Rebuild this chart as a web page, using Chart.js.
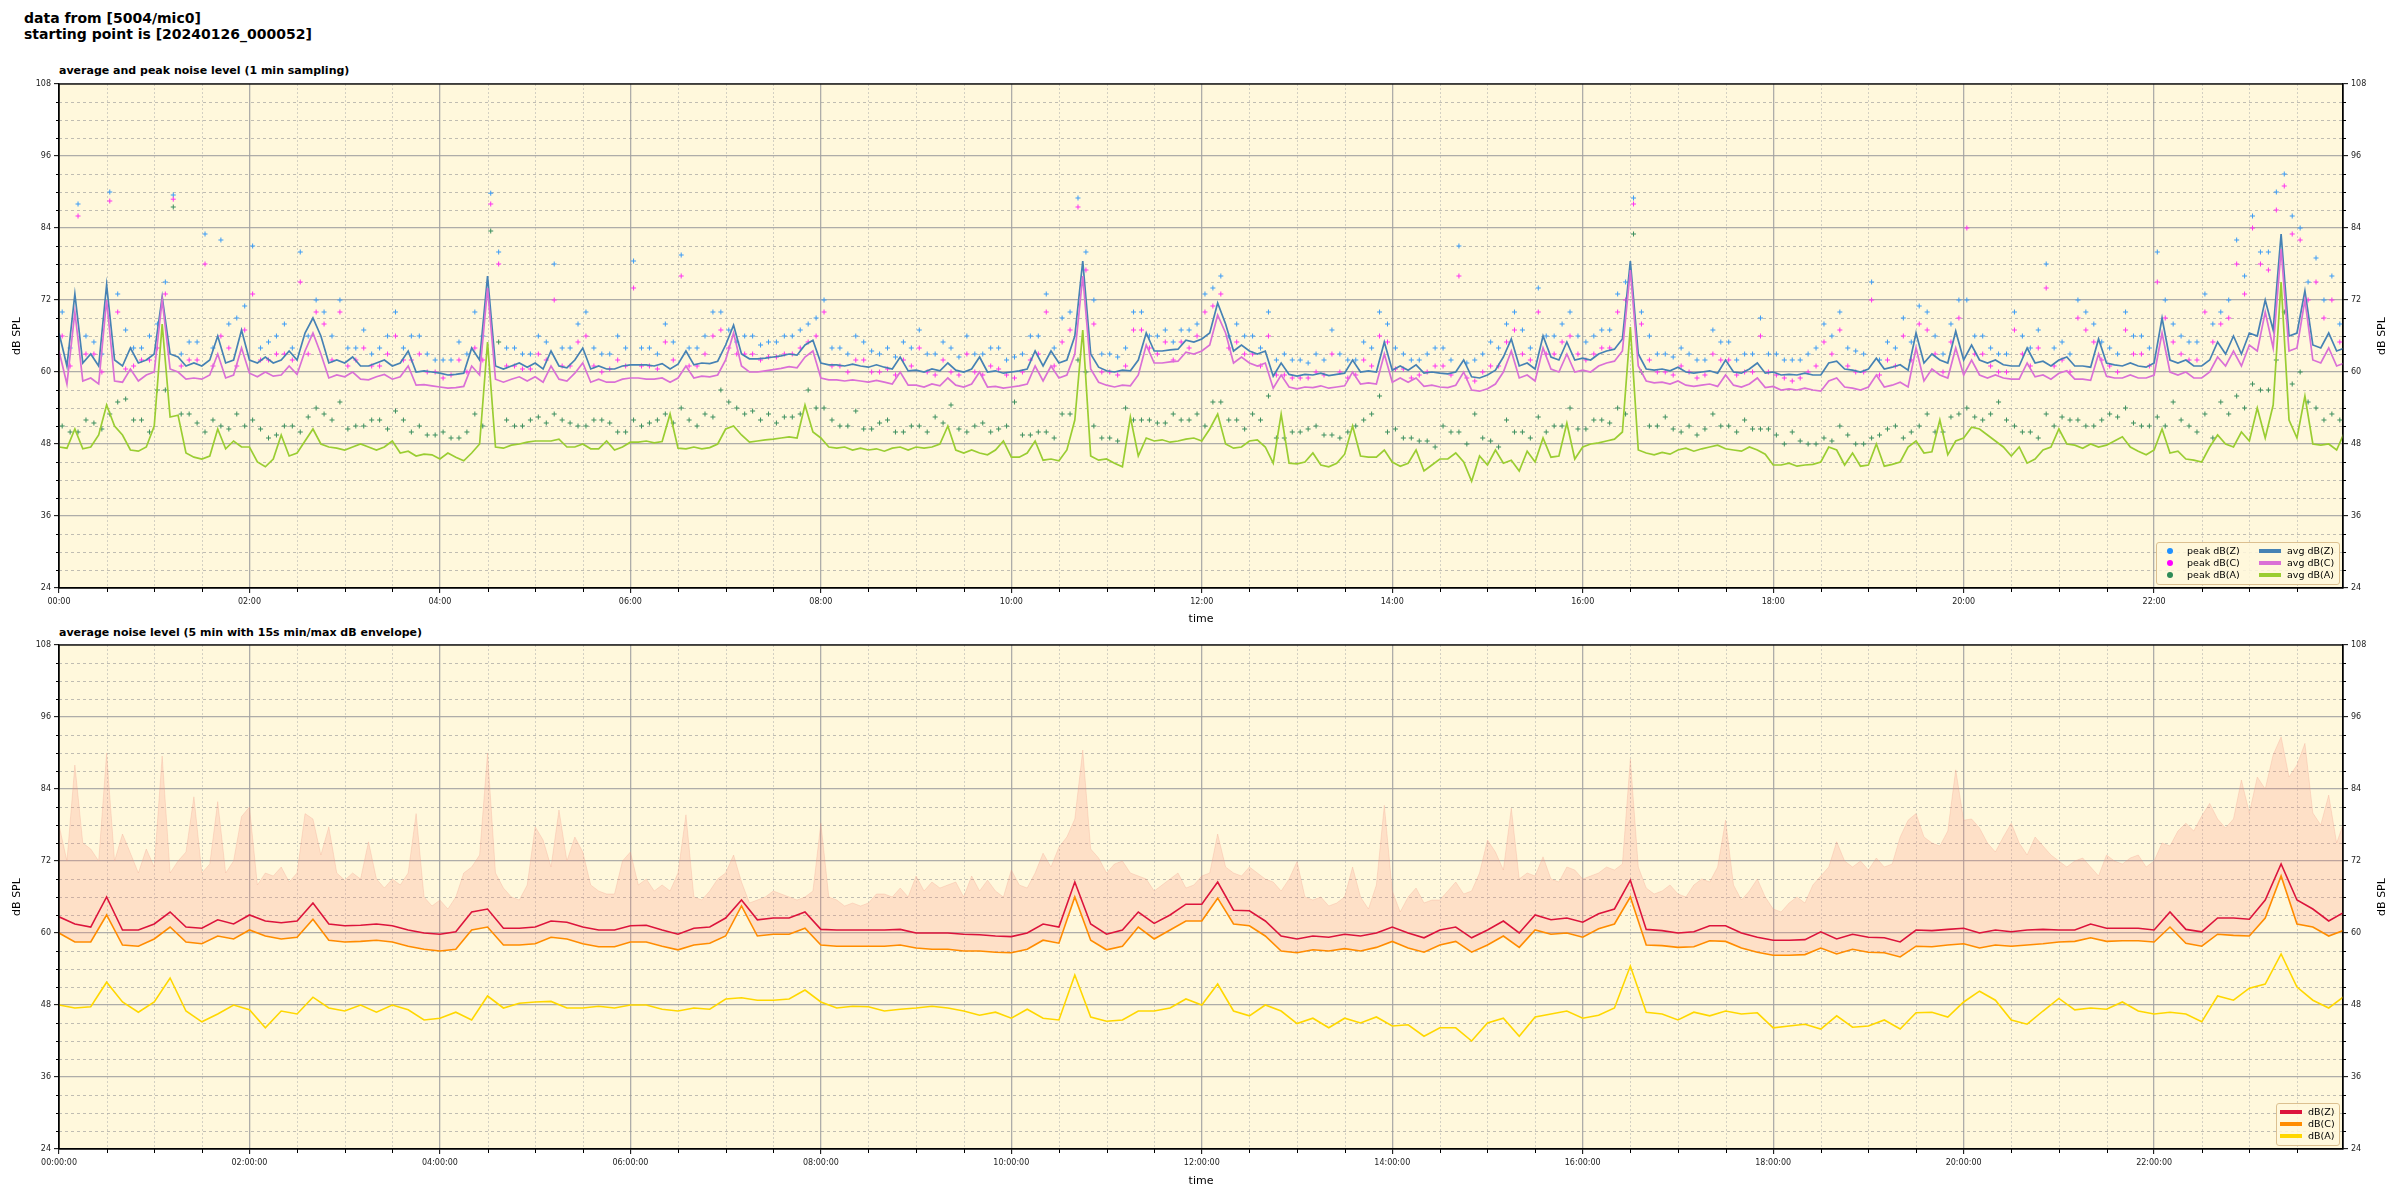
<!DOCTYPE html>
<html>
<head>
<meta charset="utf-8">
<script src="https://cdn.jsdelivr.net/npm/chart.js@4.4.0/dist/chart.umd.min.js"></script>
<style>
body{margin:0;background:#fff;width:2400px;height:1200px;position:relative;overflow:hidden;font-family:'DejaVu Sans',sans-serif;color:#000;}
#sup{position:absolute;left:24px;top:10px;font-weight:bold;font-size:14px;line-height:16px;}
.ptitle{position:absolute;left:59px;font-weight:bold;font-size:11px;line-height:13px;white-space:nowrap;}
canvas{position:absolute;left:0;}
.lg{position:absolute;background:rgba(255,248,220,0.85);border:1px solid #dcc090;border-radius:3px;font-size:9.5px;}
.lg span{position:absolute;white-space:nowrap;line-height:12px;}
.dot{width:6px;height:6px;border-radius:50%;}
.ln{width:22px;height:3.5px;}
</style>
</head>
<body>
<div id="sup">data from [5004/mic0]<br>starting point is [20240126_000052]</div>
<div class="ptitle" style="top:64px">average and peak noise level (1 min sampling)</div>
<div class="ptitle" style="top:626px">average noise level (5 min with 15s min/max dB envelope)</div>
<canvas id="top" width="2400" height="630" style="top:0"></canvas>
<canvas id="bot" width="2400" height="570" style="top:630px"></canvas>

<div class="lg" style="left:2156px;top:542px;width:182px;height:41px">
  <span class="dot" style="left:10px;top:5px;background:#1e90ff"></span><span style="left:30px;top:2px">peak dB(Z)</span>
  <span class="dot" style="left:10px;top:17px;background:#ff00ff"></span><span style="left:30px;top:14px">peak dB(C)</span>
  <span class="dot" style="left:10px;top:29px;background:#2e8b57"></span><span style="left:30px;top:26px">peak dB(A)</span>
  <span class="ln" style="left:102px;top:6px;background:#4682b4"></span><span style="left:130px;top:2px">avg dB(Z)</span>
  <span class="ln" style="left:102px;top:18px;background:#da70d6"></span><span style="left:130px;top:14px">avg dB(C)</span>
  <span class="ln" style="left:102px;top:30px;background:#9acd32"></span><span style="left:130px;top:26px">avg dB(A)</span>
</div>
<div class="lg" style="left:2276px;top:1103px;width:62px;height:41px">
  <span class="ln" style="left:3px;top:6px;background:#dc143c"></span><span style="left:31px;top:2px">dB(Z)</span>
  <span class="ln" style="left:3px;top:18px;background:#ff8c00"></span><span style="left:31px;top:14px">dB(C)</span>
  <span class="ln" style="left:3px;top:30px;background:#ffd700"></span><span style="left:31px;top:26px">dB(A)</span>
</div>

<script>
// major time ticks (minutes after 00:00)
var hourTicks = [0, 120, 240, 360, 480, 600, 720, 840, 960, 1080, 1200, 1320];

var avgZ = [
  66.5,61,73,61.5,63,61,74.5,62,61,64,61.5,62,
  63,72.5,63,62.5,61,61.5,61,62,66,61.5,62,67,
  62,61.5,62.5,61.5,62,63.5,62,66.5,69,66,61.5,62,
  61.5,62.5,61,61,61.5,62,61,61.5,63.5,60,60.2,60,
  59.8,59.5,59.6,59.8,64,62,76,61,60.5,61,61.5,60.8,
  61.5,60.5,63.5,61,60.7,62,64,60.5,61,60.5,60.5,61,
  61.2,61.2,61.2,61,61.4,60.5,61.3,63.5,61.2,61.5,61.4,61.8,
  64.5,67.8,63,62.2,62.2,62.3,62.5,62.7,63,62.8,64.5,65.3,
  61.5,61.2,61.2,61,61.3,61,60.8,61.2,60.8,60.5,62.5,60.2,
  60.3,60,60.5,60.2,61.5,60.3,60,60.5,62.5,60,60.2,59.8,
  60,60.2,60.5,63.5,61,63.5,61.5,62,66,78.5,63,60.8,
  60.2,60,60.3,60.2,62,66.5,63.5,63.5,63.7,63.8,65.3,65,
  65.5,66.5,71.5,68,63.5,64.5,63.5,63,63.5,59.3,61.5,59.6,
  59.3,59.6,59.5,59.8,59.4,59.6,59.8,62,60,60.2,60,65,
  60.3,61,60.3,61.2,59.8,60,59.8,59.7,60,62,59.2,59,
  59.5,60.3,62.5,65.5,61,61.5,60.5,66,62.5,62,65,62,
  62.3,62,63,63.5,63.8,65.5,78.5,63,60.5,60.3,60.5,60.2,
  60.8,60,59.8,60,60.2,59.8,62,60,59.8,60.5,61.5,59.8,
  60,59.5,59.6,59.5,59.8,59.5,59.5,61.5,61.8,60.5,60.3,60,
  60.5,62.3,60.5,60.8,61.2,60.3,66.5,61.5,63,62,61.5,66.8,
  62,64.5,62,61.5,62,61.2,61,61,64,61.5,61.8,61,
  62,62.5,61,61,60.8,65.5,61.5,61.2,61,61.5,61,60.8,
  61.5,69,62,61.5,62,61,61,62,65,63,66,63,
  66.5,66,72,67,83,66,66.5,73.5,64.5,64,66.5,63.5,
  64
];
var avgC = [
  63.5,58,70,58.5,59,58,72,58.5,58.3,60.5,58.5,59.5,
  60,72,60.5,60,58.8,59,58.8,59.5,63,59,59.5,64,
  59.8,59.2,60,59.3,59.5,61,59.6,63.5,66.5,63,59,59.5,
  59.2,60,58.8,58.7,59.2,59.6,58.8,59.2,61,57.8,57.9,57.7,
  57.5,57.3,57.4,57.6,61,59.5,74,58.8,58.3,58.8,59.2,58.5,
  59.2,58.3,61,58.8,58.5,59.8,61.5,58.3,58.8,58.3,58.3,58.8,
  59,59,58.8,58.8,59,58.3,59,61,59,59.3,59.2,59.5,
  62,66.5,61,60,60,60.2,60.4,60.6,60.9,60.7,62.5,63.5,
  59,58.7,58.7,58.5,58.7,58.5,58.3,58.6,58.3,58,60,57.8,
  57.8,57.5,58,57.7,59,57.8,57.5,58,60,57.5,57.6,57.3,
  57.5,57.7,58,61,58.5,61,59,59.5,63,76,60.5,58.3,
  57.8,57.5,57.8,57.7,59.5,64.5,61.5,61.5,61.7,61.8,63.3,63,
  63.5,64.5,69.5,66.5,61.5,62.5,61.5,61,61.5,57.3,59.5,57.5,
  57.2,57.5,57.4,57.7,57.3,57.5,57.7,60,58,58.2,58,63,
  58.3,59,58.3,59,57.6,57.8,57.5,57.4,57.8,60,57,56.8,
  57.2,58,60,63.5,59,59.5,58.5,64,60.5,60,63,60,
  60.3,60,61,61.5,61.8,63.5,77,61,58.5,58.2,58.3,58,
  58.5,57.8,57.6,57.8,58,57.6,59.5,57.8,57.5,58,59,57.4,
  57.6,57,57.2,57,57.3,57,56.8,58.5,59,57.5,57.3,57,
  57.5,59.5,57.5,57.8,58.3,57.5,64,58.5,60.5,59.5,59,64,
  59.5,62,59.5,59,59.5,59,58.8,58.8,61.5,59.2,59.5,58.8,
  59.8,60.2,58.8,58.8,58.6,63,59.3,59,59,59.5,59,59,
  59.5,66.5,60,59.5,60,59,59,60,62.5,61,63.5,61,
  64.5,63.5,70,64,80.5,63.5,64,72,62,61.5,64,61,
  61.5
];
var avgA = [
  47.5,47.3,50.5,47.2,47.5,49.5,54.5,51,49.5,47,46.8,47.5,
  51,68,52.5,52.8,46.5,45.8,45.5,46,50.5,47.2,48.5,47.5,
  47.5,45,44.2,45.5,49.5,46,46.5,48.5,50.5,48,47.5,47.3,
  47,47.5,48,47.5,47,47.5,48.5,46.5,46.8,46,46.3,46.2,
  45.5,46.5,45.8,45.2,46.5,48,65,47.5,47.3,47.8,48,48.3,
  48.5,48.5,48.5,48.8,47.5,47.5,48,47.2,47.2,48.5,47,47.5,
  48.3,48.3,48.5,48.2,48.4,53,47.3,47.2,47.5,47.2,47.4,48,
  50.5,51,49.5,48.3,48.5,48.7,48.8,49,49.2,49,54.5,50,
  49,47.5,47.3,47.5,47,47.3,47,47.2,46.8,47.3,47.5,47,
  47.5,47.3,47.5,48,51,47,46.5,47,46.5,46.2,47,48.5,
  45.8,45.8,46.5,48.5,45.3,45.5,45.2,47,52,67,46,45.3,
  45.5,44.8,44.2,52.5,46,49,48.5,48.7,48.3,48.5,48.8,49,
  48.5,50.5,53,48,47.3,47.5,48.5,48.7,47.5,44.8,53,44.8,
  44.7,45,46.5,44.5,44.2,44.8,46.3,51,46,45.8,45.8,47,
  45,44.3,44.8,47,43.5,44.5,45.5,45.5,46.5,45,41.8,46,
  44.5,47,44.8,45.3,43.5,46.8,45,49,45.8,46,51.5,45.5,
  47.5,48,48.2,48.5,48.8,50,67.5,47,46.5,46.2,46.6,46.3,
  47,47.3,46.8,47.2,47.5,47.8,47.2,47,46.8,47.5,47,46.3,
  44.5,44.5,44.8,44.3,44.5,44.6,45,47.5,47,44.5,46.5,44.3,
  44.5,48,44.3,44.6,45,47.5,48.5,46.5,46.7,52,46.2,48.5,
  49,50.8,50.5,49.5,48.5,47.5,46,47.5,44.8,45.5,47,47.5,
  50.5,48,47.8,47.3,48,47.5,47.8,48.5,49.2,47.5,46.8,46.2,
  47,50.5,46.5,46.8,45.5,45.3,45,47.5,49.5,48,47.5,50,
  48.5,54,49,54.5,75,52,49,56,48,47.8,48,47,
  50
];
var peakZ = [
  70,88,65,90,67,64,68,89.5,65,83,82,69,
  81,65,68,80,72,66,64,67,64,70,66,63,
  62,65,70,89.8,64,63,66,78,64,70,63,66,
  78.5,64,68,79.5,64,70,67,66,64.5,65,66,68,
  72,64,66,63.5,64,65,67,63,64,66,63,64,
  62.5,66,73,69,89,72,63,64,70,66,65,67,
  73,76,68,66,70,63,62,63,67,62,65,70,
  64,62,63,64,81,62,65,68,67,74,66,70,
  65,67,73,89,66,63,64,62,67,65,63,69,
  63,62,63,68,70,63.5,75,65,69,71,66,68,
  72,66,63,70,64,78,65,72,68,64,70,66,
  80,68,65,73,70,82,86,80,93,84,79,76
];
var peakC = [
  66,86,63,88.5,60.5,62,64,88.8,62,78,66,61,
  73,62,63,75,70,62,61,64,61,66,62,60,
  59,62,64,88,61,60.5,63,72,61,66,60,62,
  74,61,65,76,61,66,64,63,62,62.5,63,65,
  70,61,62,60,60.5,62,64,59.5,60,63,59.5,60.5,
  59,62,70,65,87.5,68,60,61,67,63,62,64,
  70,73,65,63,66,59.5,59,60,63,59,62,66,
  60.5,59,60,61,76,58.5,61,65,63,70,63,66,
  62,64,70,88,62,60,61,59,63,62,60,66,
  59.5,58.5,60,65,67,60,72,62,66,68,63,65,
  84,63,60,67,61,74,62,69,65,61,67,63,
  75,65,62,70,68,78,84,77,91,82,75,72
];
var peakA = [
  51,50,51.5,53,55.5,52,57,87.5,53,50,51,53,
  52,49,51,50,54,52,50.5,51,52,53.5,50,49.5,
  50,49,53,83.5,52,51,52.5,53,51.5,51,52,50,
  52,51.5,53,54,51,52.5,55,53,52,51.5,52.5,57,
  54,51,53.5,50.5,52,50,51,52.5,54.5,50,51.5,50.5,
  55,49.5,50,53,62,51,49,54,52,51.5,53,52,
  51,55,52,53,56,49,50,51,49.5,50,52,56,
  50.5,49,48.5,51,50,53,48.5,52,50,52.5,51,54,
  50.5,52,54,83,51,52.5,50,49.5,53,51,52,50.5,
  49.5,50,48,49,51,48,49,50.5,49,51,50,52.5,
  54,52,55,51,50,53,52.5,52,51,53,54,51,
  52.5,55,51,53,55,56,58,57,70,60,54,53
];
var peakZb = [
  64,66,63,73,64,66,75,63,65,64,68,71,
  64,66,64,66,70,72,64,63,66,64,66,62,
  62,63,66,80,64,63,65,64,68,64,63,64,
  64,63,65,64,66,70,65,66,65,66,67,69,
  64,63,65,63,62.5,64,63,65,62.5,63,64,62,
  63,66,64,70,80,63,62.5,70,66,67,67,68,
  74,66,66,64,62,62,61.5,62,63,62,64,68,
  63,62,64,62,61.5,63,64,70,64,66,68,66,
  66,67,75,70,63,62.5,63,62,65,62,63,63,
  62,62,64,66,64,63,62,64,65,70,63,72,
  66,64,63,66,67,64,63,70,65,63,66,64,
  72,66,65,68,72,76,80,90,86,75,72,68
];
var peakCb = [
  61,63,60,70,61,62,73,61,62,61,64,67,
  62,63,62,63,68,70,62,61,63,62,63,60,
  59.5,60,62,78,61,60.5,62,61,65,61,60.5,61,
  61,60.5,62,61,63,67,63,63,62.5,63,64,66,
  61,60,62,60,59.5,61,60,62,59.5,60,61,59.5,
  60,63,61,67,77,60,59.5,67,64,65,65,66,
  71,64,63,61,59.5,59,59,59.5,60,59.5,61,65,
  60.5,59.5,61,59.5,59,60,61,67,62,63,65,63,
  63,64,72,68,60,59.5,60,59.5,62,59.5,60,60,
  59,59,61,63,61,60,59.5,61,62,67,60,69,
  63,61,60,63,64,61,60,67,62,60,63,61,
  69,63,62,65,69,73,78,87,83,72,69,65
];
var peakAb = [
  50,52,50.5,55,52,50,57,53,51.5,52,50.5,51,
  50.5,49.5,51,52.5,53,55,51,52,50.5,52,51,49.5,
  49,50,51,65,51,52,51.5,52,51,52,51.5,50,
  51,52,51.5,52,53,57,54,53.5,53,52.5,53,54,
  52,51,50.5,51.5,50,51,50,51.5,50.5,51,50,51,
  49.5,50,49,53,60,49,48.5,52,52,51.5,52,53,
  55,52,50.5,52,49,50,50.5,49.5,49,51,53,50,
  49,48.5,47.5,50,48,49,47.5,50,49,50,51,50.5,
  52,51.5,53,60,51,50.5,51,50.5,51,50,50.5,50.5,
  48,48.5,48,48.5,49.5,48,49.5,51,50,53,50,53,
  52.5,53,52,50,49,51,52,51,52,52.5,51.5,51,
  51,52,50,49,53,54,57,62,58,55,52,52
];
var lineZ = [
  62.7,61.5,61,66,60.5,60.5,61.5,63.5,61,60.8,62.2,61.5,
  63,62,61.7,62,65,61.5,61.2,61.3,61.5,61.2,60.5,60,
  59.8,60.2,63.5,64,60.8,60.8,61,62,61.8,61,60.5,60.5,
  61.2,61.3,60.5,59.8,60.8,61,62.5,65.5,62.2,62.5,62.5,63.5,
  60.6,60.5,60.5,60.5,60.5,60.6,60,60,60,59.8,59.7,59.5,
  59.4,60,61.5,61,68.5,61.5,59.8,60.5,63.5,61.6,63,64.8,
  64.8,68.5,63.8,63.7,62,59.5,59,59.5,59.3,59.8,59.5,60,
  61,60,59.2,60.5,61,59.2,60.5,62,60,63,62.2,62.5,
  61.8,63.2,64,68.8,60.6,60.4,60,60.2,61.2,61.2,60,59.3,
  58.8,58.8,58.9,60.2,59,59.8,59.3,59.2,58.5,60.5,60.4,60.6,
  60.8,60,60.5,60.2,60.5,60.6,60.5,60.5,61.5,60.8,60.8,60.8,
  60.5,63.5,60.6,60.2,62.5,62.5,62.3,65.5,71.5,65.5,64,62,
  63.5
];
var lineC = [
  60,58.5,58.5,63,58,57.8,59,61,58.5,58.2,59.5,59,
  60.5,59.5,59,59.3,62.3,58.8,58.5,58.6,58.8,58.5,57.8,57.3,
  57,57.3,60.5,61,58,58,58.2,59.3,59,58.2,57.7,57.7,
  58.5,58.5,57.8,57.2,58,58.3,59.5,64.5,59.5,59.8,59.8,60.8,
  58,57.8,57.8,57.8,57.8,58,57.5,57.3,57.3,57,57,56.8,
  56.7,57.3,58.8,58.3,66,58.8,57.2,57.8,61,59,60.5,62,
  62,65.8,61.5,61.2,59.5,57,56.7,57.2,57,57.4,57,57.6,
  58.6,57.5,56.8,58,58.6,56.8,58,59.5,57.6,60.5,59.8,60,
  59.3,60.7,61.5,66,58,57.9,57.6,57.7,58.7,58.6,57.5,56.8,
  56.3,56.3,56.4,57.5,56.5,57.3,56.8,56.7,56,57.8,57.7,58,
  58.2,57.5,58,57.8,58,58.2,58.5,58.6,59.2,58.6,58.7,58.7,
  58.5,61,58.3,57.8,59.8,59.6,59.5,62.5,69.5,61.5,61,59.5,
  60.5
];
var lineA = [
  48,47.5,47.7,51.8,48.5,46.8,48.5,52.5,47,45.2,46.5,48,
  47.2,44.2,47,46.5,49.3,47.5,47,48,46.8,48,47.2,45.5,
  45.8,46.8,45.5,49.5,47.5,48.3,48.5,48.6,47.5,47.5,47.8,47.5,
  48,48,47.3,47,47.5,47.3,49,49.2,48.8,48.8,49,50.5,
  48.5,47.5,47.8,47.7,47,47.3,47.5,47.8,47.5,47,46.3,46.8,
  45.8,47.3,45.8,45.5,53,46,45.3,45.5,47,47,47.5,49,
  48,51.5,47,46.2,48,47,44.9,45.8,44.2,45.8,45,46,
  44.5,44.7,42.8,44.2,44.2,42,45,45.8,42.8,46,46.5,47,
  45.8,46.3,47.5,54.5,46.8,46.5,45.5,46.8,46.2,47,46.5,46.7,
  44.2,44.5,44.8,44,46.2,44.3,44.5,45.5,44,46.7,46.8,46,
  48.5,50.3,48.8,45.5,44.8,47,49.1,47.2,47.5,47.3,48.5,47,
  46.5,46.8,46.5,45.2,49.5,48.8,50.8,51.5,56.5,51,48.8,47.5,
  49.5
];
var envMax = [
  78,72,88,75,74,72,90,72,76.5,73.3,70,74,
  71,89.5,70,72,73.5,82.7,70,71.5,81.9,70,72,79.4,
  81,68,70,69.5,71,68.5,70,79.9,79,73,77.7,70,
  68.8,70,69,75.2,69,67.5,69,68,70,79.9,66,64.5,
  65.5,64,66,70,71,73,90,70,67.5,66,65.5,68,
  77.7,75.5,71,80.5,72,76,73.5,68,67,66.5,66.5,72,
  73.5,68,69,67,68,67,70,79.7,66,65.5,67,69,
  70,73,68.5,65,65.5,66,67,66.5,66,65.5,66,67,
  78.3,66,65.5,64.5,65,64.5,65,66.5,66.5,66,67.5,66,
  69.5,67,68.5,67.5,68,68.5,66,69.5,67,68.8,67,66,
  70.5,68,67.5,70,73.3,71,74.3,76,79,90.5,74,72.5,
  70,71.5,72,70,69.5,69,67,68,69,70,67.5,68,
  69.5,70,76.5,71,70,69.5,71,70,69,68.5,67,69,
  71.9,66,65.5,66,64.5,65,66,71,66,64,68,81.3,
  67,63.5,66,67.5,65,65.5,65.5,67,68.5,66.5,67,70,
  75.5,73.5,70.5,80.8,69,70,69.5,72.7,69,68.5,71,70.5,
  69,69.5,70,71,70.5,71.5,89,71,67.5,66.5,67,68,
  66.5,66,68,69,68.5,71,78.8,68,65.5,67,69,66,
  64,63.5,65,66,65,68,69.5,71,75.2,72,71,72,
  70.5,72.5,71,71.5,76,78.8,79.9,76,75,74.5,77,87.2,
  78.8,79,77.5,75,73.5,76,78.3,75,73,76,74.5,73,
  72,71,72,72.5,71,69.5,73,72,71.5,72.5,73,71,
  72,75,74.5,77,78.3,77,79.5,81.6,79,77.5,79,85.5,
  80,86,84,89.7,92.7,86,88,91.6,80,78,83,75,
  78.8
];

// sampling grids (minutes after 00:00)
var avgTimes = avgZ.map(function(v, i) { return i * 5; });
var peakTimes = peakZ.map(function(v, i) { return i * 10 + 2; });
var peakTimesB = peakZb.map(function(v, i) { return i * 10 + 7; });
var lineTimes = lineZ.map(function(v, i) { return i * 10; });
var envTimes = envMax.map(function(v, i) { return i * 5; });

function xy(times, vals) {
  return vals.map(function(v, i) { return {x: times[i], y: v}; });
}
function pad(n) { return (n < 10 ? '0' : '') + n; }
function hhmm(v) { return pad(Math.floor(v / 60)) + ':' + pad(v % 60); }

Chart.defaults.font.family = 'DejaVu Sans';
Chart.defaults.color = '#222';

var tickFont = {family: 'DejaVu Sans', size: 8};
var titleFont = {family: 'DejaVu Sans', size: 11};
var majorGrid = 'rgba(160,160,160,0.85)';

// axes background, minor grid, minor ticks, frame, right axis label
var frame = {
  id: 'frame',
  beforeDraw: function(chart) {
    var ctx = chart.ctx, a = chart.chartArea;
    ctx.save();
    ctx.fillStyle = '#fff8dc';
    ctx.fillRect(a.left, a.top, a.right - a.left, a.bottom - a.top);
    ctx.restore();
  },
  beforeDatasetsDraw: function(chart) {
    var ctx = chart.ctx, a = chart.chartArea, s = chart.scales;
    ctx.save();
    ctx.lineWidth = 0.8;
    ctx.strokeStyle = 'rgba(150,150,150,0.75)';
    ctx.setLineDash([3, 3]);
    for (var v = 27; v < 108; v += 3) {
      if (v % 12 === 0) continue;
      var y = Math.round(s.y.getPixelForValue(v)) + 0.5;
      ctx.beginPath(); ctx.moveTo(a.left, y); ctx.lineTo(a.right, y); ctx.stroke();
    }
    ctx.strokeStyle = 'rgba(170,170,170,0.65)';
    ctx.setLineDash([2, 2]);
    for (var t = 30; t < 1439; t += 30) {
      if (t % 120 === 0) continue;
      var x = Math.round(s.x.getPixelForValue(t)) + 0.5;
      ctx.beginPath(); ctx.moveTo(x, a.top); ctx.lineTo(x, a.bottom); ctx.stroke();
    }
    ctx.restore();
  },
  afterDraw: function(chart) {
    var ctx = chart.ctx, a = chart.chartArea, s = chart.scales;
    ctx.save();
    ctx.strokeStyle = '#000';
    ctx.lineWidth = 1.3;
    ctx.strokeRect(a.left, a.top, a.right - a.left, a.bottom - a.top);
    ctx.lineWidth = 1;
    ctx.beginPath();
    for (var v = 27; v < 108; v += 3) {
      if (v % 12 === 0) continue;
      var y = Math.round(s.y.getPixelForValue(v)) + 0.5;
      ctx.moveTo(a.left - 3, y); ctx.lineTo(a.left, y);
      ctx.moveTo(a.right, y); ctx.lineTo(a.right + 3, y);
    }
    for (var t = 30; t < 1439; t += 30) {
      if (t % 120 === 0) continue;
      var x = Math.round(s.x.getPixelForValue(t)) + 0.5;
      ctx.moveTo(x, a.bottom); ctx.lineTo(x, a.bottom + 4);
    }
    ctx.stroke();
    // right axis label, rotated like the left one
    ctx.translate(s.y2.right - 18, (a.top + a.bottom) / 2);
    ctx.rotate(-Math.PI / 2);
    ctx.fillStyle = '#000';
    ctx.font = '11px "DejaVu Sans"';
    ctx.textAlign = 'center';
    ctx.textBaseline = 'middle';
    ctx.fillText('dB SPL', 0, 0);
    ctx.restore();
  }
};

function yAxis(pos) {
  return {
    type: 'linear', position: pos, min: 24, max: 108,
    afterFit: function(sc) { sc.width = pos === 'left' ? 59 : 57; },
    ticks: {stepSize: 12, includeBounds: false, font: tickFont, color: '#222', padding: 3},
    grid: {drawOnChartArea: pos === 'left', color: majorGrid, lineWidth: 1.3, tickColor: '#000', tickLength: 5, tickWidth: 1},
    border: {color: '#000', width: 1.3},
    title: {display: pos === 'left', text: 'dB SPL', font: titleFont, color: '#000', padding: {top: 11, bottom: 0}}
  };
}
function xAxis(fmt, h, titlePad) {
  return {
    type: 'linear', min: 0, max: 1439,
    afterFit: function(sc) { sc.height = h; },
    afterBuildTicks: function(sc) {
      sc.ticks = hourTicks.map(function(v) { return {value: v}; });
    },
    ticks: {autoSkip: false, maxRotation: 0, minRotation: 0, font: tickFont, color: '#222', padding: 4,
      callback: function(v) { return fmt(v); }},
    grid: {color: majorGrid, lineWidth: 1.3, tickColor: '#000', tickLength: 5, tickWidth: 1},
    border: {color: '#000', width: 1.3},
    title: {display: true, text: 'time', font: titleFont, color: '#000', padding: {top: 0, bottom: titlePad}}
  };
}
function baseOptions(padTop, fmt, xh, titlePad) {
  return {
    responsive: false, animation: false, devicePixelRatio: 1,
    layout: {padding: {top: padTop, left: 0, right: 0, bottom: 0}},
    plugins: {legend: {display: false}, title: {display: false}, tooltip: {enabled: false}},
    elements: {line: {tension: 0}, point: {radius: 0}},
    scales: {x: xAxis(fmt, xh, titlePad), y: yAxis('left'), y2: yAxis('right')}
  };
}

var topChart = new Chart(document.getElementById('top'), {
  type: 'line',
  data: {
    datasets: [
      {type: 'scatter', label: 'peak dB(Z)', data: xy(peakTimes, peakZ).concat(xy(peakTimesB, peakZb)), pointStyle: 'cross', pointRadius: 2.5, borderWidth: 1, borderColor: '#3d9cf5', backgroundColor: '#3d9cf5', order: 6},
      {type: 'scatter', label: 'peak dB(C)', data: xy(peakTimes, peakC).concat(xy(peakTimesB, peakCb)), pointStyle: 'cross', pointRadius: 2.5, borderWidth: 1, borderColor: '#ff33f0', backgroundColor: '#ff33f0', order: 5},
      {type: 'scatter', label: 'peak dB(A)', data: xy(peakTimes, peakA).concat(xy(peakTimesB, peakAb)), pointStyle: 'cross', pointRadius: 2.5, borderWidth: 1, borderColor: '#3c8f5f', backgroundColor: '#3c8f5f', order: 4},
      {label: 'avg dB(Z)', data: xy(avgTimes, avgZ), borderColor: '#4682b4', borderWidth: 1.7, pointRadius: 0, fill: false, order: 3},
      {label: 'avg dB(C)', data: xy(avgTimes, avgC), borderColor: '#da70d6', borderWidth: 1.7, pointRadius: 0, fill: false, order: 2},
      {label: 'avg dB(A)', data: xy(avgTimes, avgA), borderColor: '#9acd32', borderWidth: 1.7, pointRadius: 0, fill: false, order: 1}
    ]
  },
  options: baseOptions(84, function(v) { return hhmm(v); }, 42, 4),
  plugins: [frame]
});

var botChart = new Chart(document.getElementById('bot'), {
  type: 'line',
  data: {
    datasets: [
      {label: 'envelope', data: xy(envTimes, envMax), borderColor: 'rgba(240,150,130,0.35)', borderWidth: 0.7, backgroundColor: 'rgba(250,128,114,0.2)', pointRadius: 0, fill: 2, order: 10},
      {label: 'dB(Z)', data: xy(lineTimes, lineZ), borderColor: '#dc143c', borderWidth: 1.6, pointRadius: 0, fill: false, order: 3},
      {label: 'dB(C)', data: xy(lineTimes, lineC), borderColor: '#ff8c00', borderWidth: 1.6, pointRadius: 0, fill: false, order: 2},
      {label: 'dB(A)', data: xy(lineTimes, lineA), borderColor: '#ffd700', borderWidth: 1.6, pointRadius: 0, fill: false, order: 1}
    ]
  },
  options: baseOptions(15, function(v) { return hhmm(v) + ':00'; }, 51, 12),
  plugins: [frame]
});
</script>
</body>
</html>
